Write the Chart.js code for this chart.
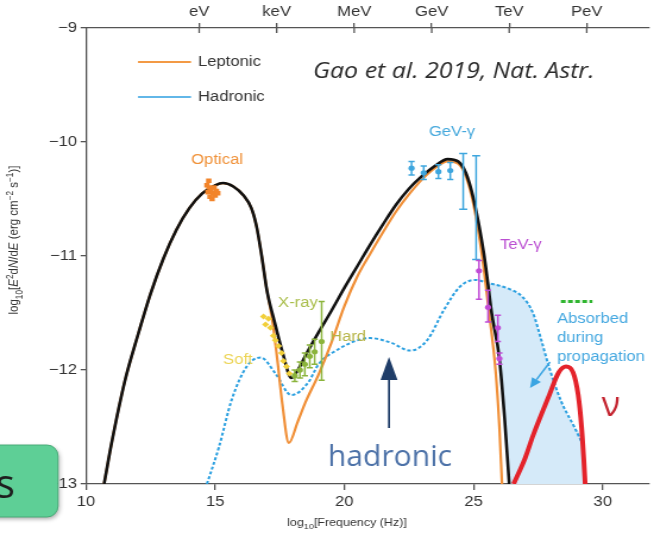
<!DOCTYPE html>
<html>
<head>
<meta charset="utf-8">
<script src="https://cdn.jsdelivr.net/npm/chart.js@4.4.1/dist/chart.umd.min.js"></script>
<style>
html,body{margin:0;padding:0;background:#fff;overflow:hidden;width:654px;height:536px}
#wrap{position:absolute;left:0;top:0;width:550px;height:536px;transform:scaleX(1.189091);transform-origin:0 0}
#c{display:block;width:550px;height:536px}
</style>
</head>
<body>
<div id="wrap"><canvas id="c" width="550" height="536"></canvas></div>
<script>
// ---------------- data (log10 frequency [Hz], log10 E^2 dN/dE) ----------------
const xTicks = [10, 15, 20, 25, 30];
const yTicks = [-13, -12, -11, -10, -9];
const energyTicks = [14.38, 17.38, 20.38, 23.38, 26.38, 29.38];
const energyLabels = ['eV', 'keV', 'MeV', 'GeV', 'TeV', 'PeV'];

const totalX = [10.7, 11.0, 11.5, 12.0, 12.5, 13.0, 13.5, 14.0, 14.5, 15.0, 15.3, 15.7, 16.1, 16.4, 16.6, 16.8, 17.0, 17.3, 17.6, 17.95, 18.2, 18.5, 19.0, 19.5, 20.0, 20.5, 21.0, 21.5, 22.0, 22.5, 23.0, 23.5, 24.0, 24.4, 24.7, 25.0, 25.4, 25.56, 25.7, 26.0, 26.2, 26.38];
const totalY = [-13.0, -12.63, -12.1, -11.7, -11.33, -11.02, -10.77, -10.58, -10.45, -10.38, -10.36, -10.39, -10.47, -10.58, -10.74, -11.0, -11.3, -11.58, -11.84, -12.07, -12.0, -11.87, -11.67, -11.48, -11.28, -11.09, -10.9, -10.72, -10.55, -10.41, -10.3, -10.21, -10.15, -10.17, -10.27, -10.5, -10.98, -11.25, -11.5, -11.9, -12.42, -13.0];

const leptonicX = [10.7, 11.0, 11.5, 12.0, 12.5, 13.0, 13.5, 14.0, 14.5, 15.0, 15.3, 15.7, 16.1, 16.4, 16.6, 16.8, 17.0, 17.2, 17.4, 17.6, 17.85, 18.2, 18.5, 19.0, 19.5, 20.0, 20.5, 21.0, 21.5, 22.0, 22.5, 23.0, 23.5, 24.0, 24.4, 24.7, 25.0, 25.33, 25.6, 25.85, 26.0, 26.1];
const leptonicY = [-13.0, -12.63, -12.1, -11.7, -11.33, -11.02, -10.77, -10.58, -10.45, -10.38, -10.36, -10.39, -10.47, -10.58, -10.74, -11.0, -11.3, -11.55, -11.9, -12.3, -12.64, -12.45, -12.28, -12.04, -11.76, -11.44, -11.18, -10.98, -10.79, -10.61, -10.46, -10.33, -10.23, -10.17, -10.19, -10.3, -10.55, -11.0, -11.5, -12.0, -12.5, -13.0];

const hadronicX = [14.68, 15.14, 15.64, 16.22, 16.76, 17.33, 17.95, 18.6, 19.0, 19.75, 20.5, 21.0, 21.8, 22.55, 23.2, 23.86, 24.47, 25.05, 25.62, 26.39, 26.9, 27.3, 27.6, 27.93, 28.4, 28.9, 29.2];
const hadronicY = [-13.0, -12.68, -12.26, -11.97, -11.89, -12.03, -12.22, -12.11, -11.95, -11.82, -11.74, -11.72, -11.76, -11.83, -11.74, -11.47, -11.27, -11.21, -11.24, -11.29, -11.36, -11.5, -11.72, -11.98, -12.28, -12.5, -12.64];

const absorbedX = [25.56, 25.62, 26.39, 26.9, 27.3, 27.6, 27.93, 28.4, 28.9, 29.2, 29.32];
const absorbedY = [-11.24, -11.24, -11.29, -11.36, -11.5, -11.72, -11.98, -12.28, -12.5, -12.64, -13.0];
const absorbedBaseX = [25.56, 25.7, 26.0, 26.2, 26.38, 29.32];
const absorbedBaseY = [-11.25, -11.5, -11.9, -12.42, -13.0, -13.0];

const neutrinoX = [26.55, 27.0, 27.31, 27.93, 28.3, 28.58, 28.85, 29.05, 29.18, 29.27, 29.32];
const neutrinoY = [-13.0, -12.77, -12.57, -12.22, -12.02, -11.97, -12.02, -12.22, -12.5, -12.8, -13.0];

const greenDashX = [28.38, 29.6];
const greenDashY = [-11.4, -11.4];

const opticalX = [14.68, 14.72, 14.76, 14.8, 14.84, 14.88, 14.92, 14.96, 15.0, 15.05, 15.1, 14.75];
const opticalY = [-10.38, -10.44, -10.4, -10.48, -10.42, -10.5, -10.45, -10.4, -10.47, -10.43, -10.45, -10.34];

const softX = [16.87, 16.95, 17.06, 17.14, 17.25, 17.33, 17.45, 17.57, 17.64, 17.76, 17.87];
const softY = [-11.53, -11.6, -11.55, -11.63, -11.7, -11.74, -11.79, -11.85, -11.92, -11.97, -12.03];

const hardX = [18.08, 18.28, 18.47, 18.66, 18.85, 19.12];
const hardY = [-12.05, -12.0, -11.95, -11.88, -11.84, -11.75];
const hardLo = [-12.1, -12.07, -12.05, -11.98, -11.95, -12.09];
const hardHi = [-12.0, -11.93, -11.85, -11.78, -11.73, -11.4];

const gevX = [22.6, 23.07, 23.64, 24.1];
const gevY = [-10.23, -10.27, -10.26, -10.25];
const gevLo = [-10.29, -10.33, -10.32, -10.33];
const gevHi = [-10.17, -10.21, -10.2, -10.18];
const gevWideX = [24.6, 25.1];
const gevWideLo = [-10.59, -11.03];
const gevWideHi = [-10.1, -10.12];

const tevX = [25.21, 25.56, 25.94, 26.0];
const tevY = [-11.13, -11.45, -11.63, -11.9];
const tevLo = [-11.38, -11.58, -11.75, -11.95];
const tevHi = [-11.04, -11.3, -11.52, -11.85];

// ---------------- helpers ----------------
const S = 654 / 550;                      // horizontal stretch of the figure
const FONT = '"Liberation Sans", Arial, Helvetica, sans-serif';
const pts = (xs, ys) => xs.map((x, i) => ({x: x, y: ys[i]}));

function curve(label, xs, ys, color, width, extra) {
  return Object.assign({
    label: label, data: pts(xs, ys), borderColor: color, backgroundColor: color,
    borderWidth: width, pointRadius: 0, cubicInterpolationMode: 'monotone', fill: false
  }, extra || {});
}
function points(label, xs, ys, color, style, r) {
  return {label: label, data: pts(xs, ys), showLine: false, pointStyle: style,
    pointRadius: r, pointBackgroundColor: color, pointBorderColor: color, borderColor: color,
    backgroundColor: color, pointBorderWidth: 0};
}

const errorSets = [
  {xs: hardX, lo: hardLo, hi: hardHi, color: '#8bb43c', cap: 2.6},
  {xs: gevX, lo: gevLo, hi: gevHi, color: '#3ea6de', cap: 2.6},
  {xs: gevWideX, lo: gevWideLo, hi: gevWideHi, color: '#3ea6de', cap: 3.4},
  {xs: tevX, lo: tevLo, hi: tevHi, color: '#c04bd6', cap: 2.6}
];

function arrow(ctx, x1, y1, x2, y2, head, half, color, lw) {
  const a = Math.atan2(y2 - y1, x2 - x1);
  const bx = x2 - head * Math.cos(a), by = y2 - head * Math.sin(a);
  ctx.strokeStyle = color; ctx.fillStyle = color; ctx.lineWidth = lw;
  ctx.beginPath(); ctx.moveTo(x1, y1); ctx.lineTo(bx, by); ctx.stroke();
  ctx.beginPath();
  ctx.moveTo(x2, y2);
  ctx.lineTo(bx + half * Math.sin(a), by - half * Math.cos(a));
  ctx.lineTo(bx - half * Math.sin(a), by + half * Math.cos(a));
  ctx.closePath(); ctx.fill();
}

function richText(ctx, parts, size) {
  let w = 0;
  parts.forEach(p => {
    const fs = p.s ? size * 0.72 : size;
    ctx.font = (p.i ? 'italic ' : '') + fs + 'px ' + FONT;
    p.w = ctx.measureText(p.t).width; p.fs = fs; w += p.w;
  });
  return w;
}
function drawRich(ctx, parts, size, x, y) {
  let cx = x;
  parts.forEach(p => {
    ctx.font = (p.i ? 'italic ' : '') + p.fs + 'px ' + FONT;
    const dy = p.s === 'sub' ? size * 0.3 : (p.s === 'sup' ? -size * 0.38 : 0);
    ctx.fillText(p.t, cx, y + dy); cx += p.w;
  });
}

const annot = {
  id: 'annot',
  afterDatasetsDraw(chart) {
    const ctx = chart.ctx, xs = chart.scales.x, ys = chart.scales.y;
    ctx.save();
    errorSets.forEach(set => {
      ctx.strokeStyle = set.color; ctx.lineWidth = 1.5;
      set.xs.forEach((v, i) => {
        const px = xs.getPixelForValue(v);
        const y1 = ys.getPixelForValue(set.lo[i]), y2 = ys.getPixelForValue(set.hi[i]);
        ctx.beginPath();
        ctx.moveTo(px, y1); ctx.lineTo(px, y2);
        ctx.moveTo(px - set.cap, y1); ctx.lineTo(px + set.cap, y1);
        ctx.moveTo(px - set.cap, y2); ctx.lineTo(px + set.cap, y2);
        ctx.stroke();
      });
    });
    ctx.restore();
  },
  afterDraw(chart) {
    const ctx = chart.ctx, area = chart.chartArea;
    const x2 = chart.scales.x2;
    ctx.save();
    // inward part of top ticks
    ctx.strokeStyle = '#555'; ctx.lineWidth = 1.3;
    energyTicks.forEach(v => {
      const px = x2.getPixelForValue(v);
      ctx.beginPath(); ctx.moveTo(px, area.top); ctx.lineTo(px, area.top + 5); ctx.stroke();
    });

    // legend
    ctx.lineWidth = 2;
    ctx.strokeStyle = '#f39a45';
    ctx.beginPath(); ctx.moveTo(138 / S, 62); ctx.lineTo(191 / S, 62); ctx.stroke();
    ctx.strokeStyle = '#62b7e8';
    ctx.beginPath(); ctx.moveTo(138 / S, 97); ctx.lineTo(191 / S, 97); ctx.stroke();
    ctx.fillStyle = '#333'; ctx.font = '14px ' + FONT; ctx.textBaseline = 'middle'; ctx.textAlign = 'left';
    ctx.fillText('Leptonic', 198 / S, 62);
    ctx.fillText('Hadronic', 198 / S, 97);

    // citation
    ctx.fillStyle = '#2a2a2a';
    ctx.font = 'italic 21px "Open Sans", sans-serif';
    ctx.fillText('Gao et al. 2019, Nat. Astr.', 313 / S, 72);

    // data labels in the figure
    ctx.font = '14px ' + FONT;
    ctx.fillStyle = '#f0923a'; ctx.textAlign = 'center'; ctx.fillText('Optical', 217 / S, 160);
    ctx.fillStyle = '#45a8dc'; ctx.fillText('GeV-\u03b3', 452 / S, 132);
    ctx.textAlign = 'left';
    ctx.fillStyle = '#bb4fd2'; ctx.fillText('TeV-\u03b3', 500 / S, 245);
    ctx.fillStyle = '#a9bd4a'; ctx.fillText('X-ray', 278 / S, 303);
    ctx.fillStyle = '#b6b446'; ctx.fillText('Hard', 330 / S, 337);
    ctx.fillStyle = '#ecd455'; ctx.fillText('Soft', 223 / S, 360);
    ctx.fillStyle = '#45a8e0';
    ctx.fillText('Absorbed', 557 / S, 319);
    ctx.fillText('during', 557 / S, 338);
    ctx.fillText('propagation', 557 / S, 357);
    arrow(ctx, 550 / S, 362, 530 / S, 388, 10, 4.5, '#3aa4e2', 1.5);

    // axis titles
    ctx.fillStyle = '#333';
    const xl = [{t: 'log'}, {t: '10', s: 'sub'}, {t: '[Frequency (Hz)]'}];
    const wx = richText(ctx, xl, 10.5);
    ctx.textBaseline = 'alphabetic';
    drawRich(ctx, xl, 10.5, 347 / S - wx / 2, 526);
    const yl = [{t: 'log'}, {t: '10', s: 'sub'}, {t: '['}, {t: 'E', i: 1}, {t: '2', s: 'sup'}, {t: 'd'}, {t: 'N', i: 1},
      {t: '/d'}, {t: 'E', i: 1}, {t: ' (erg cm'}, {t: '\u22122', s: 'sup'}, {t: ' s'}, {t: '\u22121', s: 'sup'}, {t: ')]'}];
    const wy = richText(ctx, yl, 11.5);
    ctx.save();
    ctx.translate(18 / S, 240);
    ctx.rotate(-Math.PI / 2);
    drawRich(ctx, yl, 11.5, -wy / 2, 0);
    ctx.restore();

    // ---- overlays of the slide (not stretched) ----
    ctx.save();
    ctx.scale(1 / S, 1);
    ctx.fillStyle = '#4d72a8';
    ctx.font = '30px "Open Sans", sans-serif';
    ctx.textBaseline = 'alphabetic'; ctx.textAlign = 'left';
    ctx.fillText('hadronic', 328, 466);
    arrow(ctx, 389, 428, 389, 357, 23, 8.5, '#1f3d68', 2);

    ctx.fillStyle = '#c42430';
    ctx.font = '34px "Open Sans", sans-serif';
    ctx.textAlign = 'center';
    ctx.fillText('\u03bd', 611, 416);

    // green button
    ctx.save();
    ctx.shadowColor = 'rgba(0,0,0,0.35)'; ctx.shadowBlur = 4; ctx.shadowOffsetX = 1; ctx.shadowOffsetY = 2;
    ctx.fillStyle = '#5ecf96';
    ctx.beginPath(); ctx.roundRect(-20, 445, 78, 72, 11); ctx.fill();
    ctx.restore();
    ctx.strokeStyle = '#44a874'; ctx.lineWidth = 1;
    ctx.beginPath(); ctx.roundRect(-20, 445, 78, 72, 11); ctx.stroke();
    ctx.fillStyle = '#1e1e1e';
    ctx.font = '40px "Open Sans", sans-serif';
    ctx.textAlign = 'right'; ctx.textBaseline = 'alphabetic';
    ctx.fillText('s', 15, 498);
    ctx.restore();

    ctx.restore();
  }
};

const datasets = [
  points('TeV-\u03b3', tevX, tevY, '#c04bd6', 'circle', 2.6),
  points('GeV-\u03b3', gevX, gevY, '#3ea6de', 'circle', 2.6),
  points('Hard', hardX, hardY, '#8bb43c', 'circle', 2.6),
  points('Soft', softX, softY, '#f1cf3a', 'rectRot', 3),
  points('Optical', opticalX, opticalY, '#f2842a', 'rect', 3.2),
  curve('Total', totalX, totalY, '#111111', 2.6),
  curve('Leptonic', leptonicX, leptonicY, '#f08f37', 2.2),
  curve('Neutrino', neutrinoX, neutrinoY, '#e4232b', 4),
  curve('Limit', greenDashX, greenDashY, '#2fb52f', 3, {borderDash: [4, 2], cubicInterpolationMode: 'default', tension: 0}),
  curve('Hadronic', hadronicX, hadronicY, '#2ca0e0', 2, {borderDash: [3, 2]}),
  curve('Absorbed', absorbedX, absorbedY, 'rgba(0,0,0,0)', 0, {fill: '+1', backgroundColor: '#d5eaf9'}),
  curve('AbsorbedBase', absorbedBaseX, absorbedBaseY, 'rgba(0,0,0,0)', 0)
];

new Chart(document.getElementById('c'), {
  type: 'line',
  data: {datasets: datasets},
  options: {
    responsive: false, animation: false, devicePixelRatio: 1, events: [],
    layout: {padding: 0},
    plugins: {legend: {display: false}, tooltip: {enabled: false}},
    scales: {
      x: {
        type: 'linear', position: 'bottom', min: 10, max: 31.8,
        afterBuildTicks: s => { s.ticks = xTicks.map(v => ({value: v})); },
        afterFit: s => { s.height = 52; },
        ticks: {font: {size: 14, family: FONT}, color: '#333', padding: 4, maxRotation: 0, autoSkip: false},
        grid: {drawOnChartArea: false, tickLength: 6, color: '#555', lineWidth: 1.3},
        border: {color: '#555', width: 1.3}
      },
      x2: {
        type: 'linear', position: 'top', min: 10, max: 31.8,
        afterBuildTicks: s => { s.ticks = energyTicks.map(v => ({value: v})); },
        afterFit: s => { s.height = 28; },
        ticks: {font: {size: 14, family: FONT}, color: '#333', padding: 2, maxRotation: 0, autoSkip: false,
          callback: (v, i) => energyLabels[i]},
        grid: {drawOnChartArea: false, tickLength: 5, color: '#555', lineWidth: 1.3},
        border: {color: '#555', width: 1.3}
      },
      y: {
        type: 'linear', position: 'left', min: -13, max: -9,
        afterBuildTicks: s => { s.ticks = yTicks.map(v => ({value: v})); },
        afterFit: s => { s.width = 86 / S; },
        ticks: {font: {size: 14, family: FONT}, color: '#333', padding: 3,
          callback: v => '\u2212' + Math.abs(v)},
        grid: {drawOnChartArea: false, tickLength: 4.5, color: '#555', lineWidth: 1.3},
        border: {color: '#555', width: 1.3}
      }
    }
  },
  plugins: [annot]
});
</script>
</body>
</html>
